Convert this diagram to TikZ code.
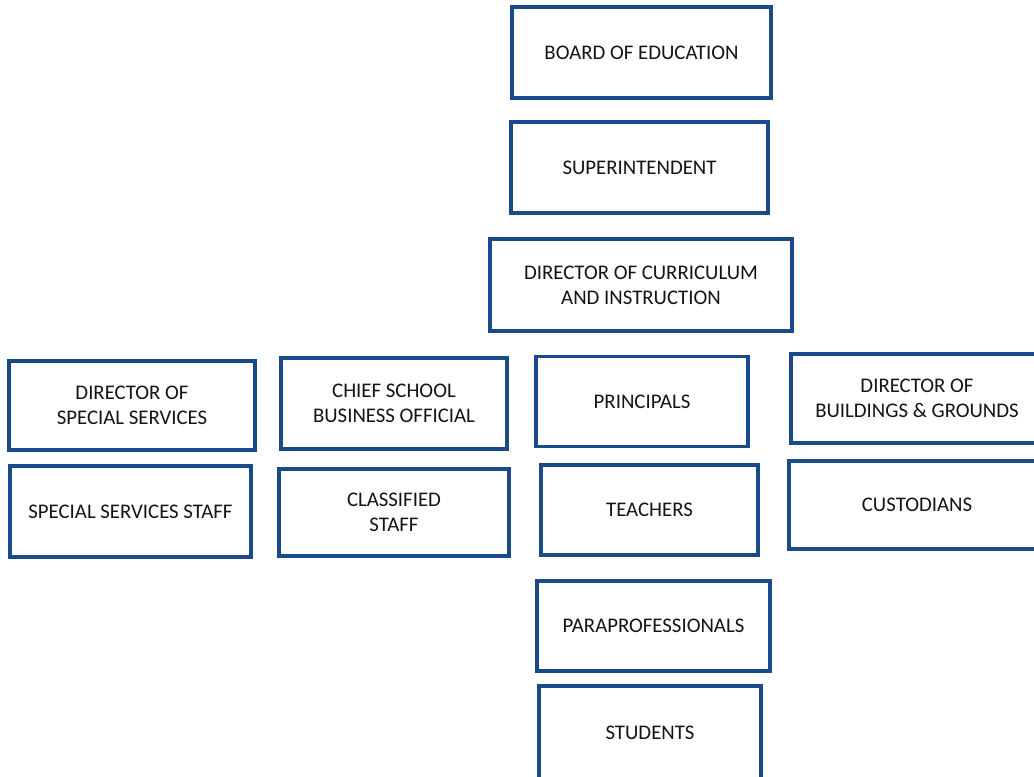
\documentclass[tikz,border=0pt]{standalone}
\usepackage{fontspec}
\setmainfont{Carlito}
\definecolor{boxblue}{HTML}{1A4A8A}
\definecolor{txt}{HTML}{141414}
\begin{document}
\begin{tikzpicture}[x=0.75pt,y=-0.75pt,
  box/.style={draw=boxblue, line width=2.6pt, fill=white, text=txt, inner sep=0pt,
    align=center, font=\fontsize{15.6}{18.8}\selectfont}]
\useasboundingbox (0,0) rectangle (1034,776);
\clip (0,0) rectangle (1034,776);
\node[box, minimum width=259*0.75pt, minimum height=91*0.75pt] (board) at (641.5,52.5) {BOARD OF EDUCATION};
\node[box, minimum width=257*0.75pt, minimum height=91*0.75pt] (super) at (639.5,167.5) {SUPERINTENDENT};
\node[box, minimum width=302*0.75pt, minimum height=92*0.75pt] (curr) at (641,285) {DIRECTOR OF CURRICULUM\\AND INSTRUCTION};
\node[box, minimum width=246*0.75pt, minimum height=89*0.75pt] (dss) at (132,405.5) {DIRECTOR OF\\SPECIAL SERVICES};
\node[box, minimum width=226*0.75pt, minimum height=91*0.75pt] (csbo) at (394,403.5) {CHIEF SCHOOL\\BUSINESS OFFICIAL};
\node[box, minimum width=241*0.75pt, minimum height=91*0.75pt] (sss) at (130.5,511.5) {SPECIAL SERVICES STAFF};
\node[box, minimum width=230*0.75pt, minimum height=87*0.75pt] (class) at (394,512.5) {CLASSIFIED\\STAFF};
\node[box, minimum width=212*0.75pt, minimum height=90*0.75pt] (princ) at (642,401.5) {PRINCIPALS};
\node[box, minimum width=217*0.75pt, minimum height=90*0.75pt] (teach) at (649.5,510) {TEACHERS};
\node[box, minimum width=233*0.75pt, minimum height=90*0.75pt] (para) at (653.5,626) {PARAPROFESSIONALS};
\node[box, minimum width=222*0.75pt, minimum height=94*0.75pt] (stud) at (650,733) {STUDENTS};
\node[box, minimum width=252*0.75pt, minimum height=89*0.75pt] (dbg) at (917,398.5) {DIRECTOR OF\\BUILDINGS \& GROUNDS};
\node[box, minimum width=256*0.75pt, minimum height=88*0.75pt] (cust) at (917,505) {CUSTODIANS};
\end{tikzpicture}
\end{document}
